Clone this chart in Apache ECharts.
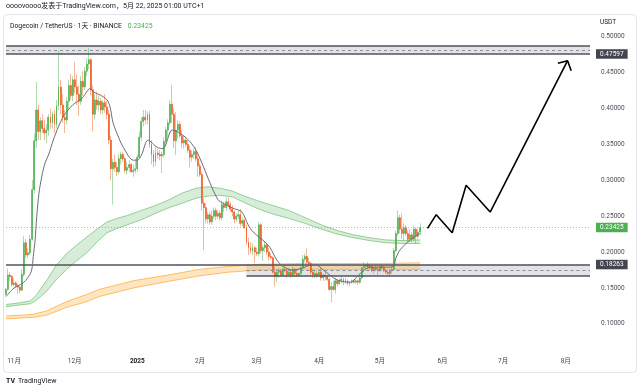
<!DOCTYPE html>
<html><head><meta charset="utf-8">
<script src="https://cdn.jsdelivr.net/npm/echarts@6/dist/echarts.min.js"></script>
<style>html,body{margin:0;padding:0;background:#fff}#c{width:640px;height:385px}</style>
</head><body><div id="c"></div>
<script>
// ---- data ----
const dayCount = 290; // day 0 = 2024-10-28
const monthTickDays = [4, 34, 65, 96, 124, 155, 185, 216, 246, 277];
const monthTickLabels = ['11月', '12月', '2025', '2月', '3月', '4月', '5月', '6月', '7月', '8月'];
const priceTicks = [0.10, 0.15, 0.20, 0.25, 0.30, 0.35, 0.40, 0.45, 0.50];

// daily candles [open, high, low, close] from 2024-10-28
const candles = [
[.141,.150,.139,.148],[.148,.177,.146,.168],[.168,.172,.160,.166],[.166,.168,.152,.155],[.155,.163,.152,.157],
[.157,.159,.150,.153],[.153,.156,.142,.151],[.151,.152,.143,.147],[.147,.176,.146,.169],[.169,.222,.166,.213],
[.213,.218,.192,.196],[.196,.206,.191,.199],[.199,.224,.196,.218],[.218,.300,.216,.287],[.287,.365,.282,.355],
[.355,.437,.345,.398],[.398,.405,.356,.368],[.368,.388,.356,.383],[.383,.392,.366,.372],[.372,.384,.356,.366],
[.366,.378,.352,.370],[.370,.392,.362,.388],[.388,.400,.372,.380],[.380,.396,.372,.392],[.392,.398,.366,.378],
[.378,.412,.372,.404],[.404,.481,.398,.430],[.430,.440,.392,.405],[.405,.420,.380,.388],[.388,.398,.366,.384],
[.384,.416,.378,.410],[.410,.440,.400,.432],[.432,.448,.412,.418],[.418,.445,.410,.440],[.440,.465,.422,.430],
[.430,.448,.405,.420],[.420,.432,.390,.410],[.410,.445,.405,.438],[.438,.452,.418,.430],[.430,.458,.425,.452],
[.452,.470,.445,.462],[.462,.484,.455,.468],[.468,.470,.418,.426],[.426,.432,.368,.392],[.392,.420,.385,.412],
[.412,.424,.398,.405],[.405,.418,.396,.410],[.410,.415,.392,.398],[.398,.412,.392,.408],[.408,.420,.394,.402],
[.402,.410,.385,.392],[.392,.398,.350,.356],[.356,.362,.300,.316],[.316,.330,.266,.325],[.325,.336,.312,.318],
[.318,.326,.306,.312],[.312,.336,.308,.330],[.330,.340,.322,.336],[.336,.340,.325,.330],[.330,.332,.310,.314],
[.314,.326,.308,.318],[.318,.328,.312,.322],[.322,.324,.310,.312],[.312,.322,.305,.314],[.314,.330,.310,.316],
[.316,.336,.312,.332],[.332,.368,.330,.360],[.360,.388,.355,.382],[.382,.398,.375,.388],[.388,.398,.378,.384],
[.384,.396,.378,.392],[.392,.396,.345,.350],[.350,.356,.322,.336],[.336,.342,.318,.326],[.326,.346,.320,.338],
[.338,.344,.330,.336],[.336,.342,.328,.334],[.334,.340,.310,.336],[.336,.360,.332,.354],[.354,.374,.348,.370],
[.370,.385,.360,.380],[.380,.412,.376,.406],[.406,.433,.380,.392],[.392,.400,.345,.355],[.355,.395,.335,.370],
[.370,.384,.358,.378],[.378,.382,.358,.362],[.362,.370,.345,.352],[.352,.362,.344,.356],[.356,.360,.346,.350],
[.350,.356,.338,.342],[.342,.348,.318,.332],[.332,.342,.326,.336],[.336,.344,.330,.340],[.340,.346,.326,.330],
[.330,.336,.305,.320],[.320,.324,.305,.308],[.308,.312,.258,.268],[.268,.275,.203,.262],[.262,.268,.240,.246],
[.246,.256,.240,.252],[.252,.256,.238,.242],[.242,.258,.238,.250],[.250,.262,.246,.258],[.258,.262,.244,.250],
[.250,.258,.246,.254],[.254,.258,.244,.248],[.248,.272,.244,.266],[.266,.270,.256,.262],[.262,.276,.258,.270],
[.270,.276,.262,.266],[.266,.270,.256,.260],[.260,.266,.250,.256],[.256,.258,.240,.246],[.246,.254,.242,.250],
[.250,.258,.246,.252],[.252,.260,.236,.240],[.240,.248,.236,.244],[.244,.246,.232,.234],[.234,.238,.210,.214],
[.214,.220,.196,.206],[.206,.214,.198,.202],[.202,.212,.196,.206],[.206,.208,.185,.200],[.200,.206,.195,.198],
[.198,.242,.194,.238],[.238,.240,.198,.202],[.202,.210,.188,.206],[.206,.214,.200,.210],[.210,.212,.196,.200],
[.200,.206,.188,.194],[.194,.198,.190,.192],[.192,.194,.170,.172],[.172,.180,.152,.166],[.166,.176,.158,.172],
[.172,.178,.164,.174],[.174,.176,.166,.168],[.168,.178,.166,.176],[.176,.180,.172,.174],[.174,.176,.164,.168],
[.168,.176,.166,.172],[.172,.174,.164,.168],[.168,.180,.166,.176],[.176,.178,.168,.170],[.170,.174,.166,.168],
[.168,.172,.165,.170],[.170,.180,.168,.178],[.178,.196,.176,.190],[.190,.198,.186,.194],[.194,.205,.184,.186],
[.186,.192,.180,.184],[.184,.186,.168,.172],[.172,.176,.164,.168],[.168,.174,.164,.170],[.170,.174,.164,.168],
[.168,.176,.166,.172],[.172,.178,.160,.164],[.164,.170,.160,.168],[.168,.174,.160,.166],[.166,.168,.160,.162],
[.162,.164,.146,.148],[.148,.158,.130,.152],[.152,.160,.146,.148],[.148,.164,.142,.160],[.160,.162,.152,.156],
[.156,.164,.154,.160],[.160,.166,.156,.162],[.162,.164,.154,.158],[.158,.164,.156,.160],[.160,.162,.154,.156],
[.156,.160,.152,.158],[.158,.162,.156,.160],[.160,.162,.156,.158],[.158,.162,.156,.160],[.160,.162,.154,.158],
[.158,.166,.156,.164],[.164,.180,.162,.178],[.178,.186,.172,.180],[.180,.184,.174,.182],[.182,.186,.176,.178],
[.178,.184,.176,.180],[.180,.182,.172,.174],[.174,.180,.170,.178],[.178,.182,.174,.176],[.176,.180,.168,.174],
[.174,.182,.172,.180],[.180,.182,.176,.178],[.178,.180,.172,.174],[.174,.176,.170,.172],[.172,.174,.168,.170],
[.170,.176,.166,.174],[.174,.180,.170,.176],[.176,.206,.174,.202],[.202,.230,.200,.226],[.226,.258,.222,.248],
[.248,.252,.226,.232],[.232,.254,.218,.226],[.226,.240,.216,.234],[.234,.238,.222,.226],[.226,.230,.214,.218],
[.218,.232,.214,.224],[.224,.228,.214,.218],[.218,.236,.216,.232],[.232,.234,.212,.222],[.222,.232,.218,.228],
[.228,.240,.224,.23425]
];

// fast moving average line [day, value]
const fastLine = [[0,.138],[4,.150],[8,.156],[11,.165],[12.7,.175],[13.5,.194],[14.4,.217],[15.2,.249],[16.3,.282],[17.7,.305],[19.3,.324],[21,.335],[23.4,.356],[26,.375],[28.4,.389],[33,.405],[37.5,.414],[40.7,.426],[41.6,.428],[43.2,.423],[46.5,.419],[50,.412],[51.5,.402],[53,.38],[56,.358],[58,.346],[63,.328],[65,.328],[67,.335],[70.3,.356],[74.8,.346],[77.7,.344],[82.2,.37],[86,.366],[91,.354],[94.4,.34],[97.7,.319],[101,.296],[104.9,.273],[107.4,.268],[112.4,.261],[116.7,.256],[119.8,.238],[122.3,.228],[128.2,.214],[130.7,.206],[134,.189],[137.1,.18],[142,.175],[147,.178],[150.5,.182],[153,.183],[157,.175],[164,.161],[170.3,.158],[175.2,.17],[180.2,.179],[188.6,.179],[191.6,.180],[193,.192],[195,.203],[200,.217],[205,.226]];

// green moving-average ribbon
const greenDays  = [0,6,12,15,20,25,30,35,40,45,50,55,60,67,74,80,87,94,100,106,112,118,125,132,140,148,156,164,172,180,188,196,205];
const greenUpper = [.127,.129,.132,.140,.160,.182,.198,.210,.221,.232,.242,.247,.251,.258,.265,.272,.282,.289,.291,.289,.285,.278,.271,.265,.258,.248,.238,.230,.224,.220,.217,.216,.217];
const greenLower = [.124,.126,.128,.133,.145,.162,.176,.188,.199,.214,.227,.233,.238,.245,.254,.261,.268,.275,.278,.279,.277,.269,.260,.253,.247,.240,.232,.225,.220,.216,.213,.212,.212];

// orange moving-average ribbon
const orangeDays  = [0,13,20,30,40,46,56,63,80,96,110,125,145,165,185,205];
const orangeUpper = [.111,.113,.118,.131,.141,.148,.155,.160,.168,.176,.180,.183,.184,.184,.184,.185];
const orangeLower = [.107,.109,.112,.123,.131,.138,.145,.150,.159,.167,.172,.175,.176,.176,.176,.176];

// hand-drawn projection path and arrow head [day, value]
const projection = [[208.6,.2331],[212.9,.2521],[220.8,.2270],[227.7,.2930],[239.6,.2558],[277.9,.4666]];
const arrowHead = [[273.1,.4630],[277.9,.4666],[279.7,.4527]];

const lastPrice = 0.23425;
const supportLevel = 0.18263;
const resistanceZone = [0.47597, 0.4871];
const supportZone = [0.1667, 0.18263];
const supportZoneStartDay = 119;

// ---- chart ----
const UP = '#4caf50', DN = '#f05a1e';
const UPp = 'rgba(76,175,80,0.45)', DNp = 'rgba(240,90,30,0.45)';
const FONT = 'Roboto, "Noto Sans CJK SC", sans-serif';
const LAST = dayCount - 1;

const dates = [];
for (let k = 0; k < dayCount; k++) {
  dates.push(new Date(Date.UTC(2024, 9, 28 + k)).toISOString().slice(0, 10));
}

function band(days, upper, lower, fill, stroke) {
  return {
    type: 'custom', xAxisIndex: 1, yAxisIndex: 0, data: [[0, 0]], silent: true, z: 1,
    renderItem(params, api) {
      const up = days.map((d, k) => api.coord([d, upper[k]]));
      const lo = days.map((d, k) => api.coord([d, lower[k]]));
      return { type: 'group', children: [
        { type: 'polygon', shape: { points: up.concat(lo.slice().reverse()) }, style: { fill } },
        { type: 'polyline', shape: { points: up }, style: { stroke, lineWidth: 1, fill: null } },
        { type: 'polyline', shape: { points: lo }, style: { stroke, lineWidth: 1, fill: null } }
      ]};
    }
  };
}

const zoneLine = (from, to, v, color, type, width) =>
  [{ coord: [from, v], lineStyle: { color, type, width } }, { coord: [to, v] }];

const chart = echarts.init(document.getElementById('c'), null, { renderer: 'canvas' });
chart.setOption({
  animation: false,
  backgroundColor: '#fff',
  grid: { left: 6, right: 50, top: 15.2, bottom: 39.6 },
  xAxis: [
    { type: 'category', data: dates, boundaryGap: false, show: false, position: 'bottom' },
    { type: 'value', min: 0, max: LAST, position: 'bottom', splitLine: { show: false }, axisLine: { show: false }, axisTick: { show: false },
      axisLabel: { customValues: monthTickDays, margin: 13, fontSize: 6.5, color: '#3b3e46', fontFamily: FONT,
        formatter: v => { const t = monthTickLabels[monthTickDays.indexOf(v)]; return /^\d{4}$/.test(t) ? '{b|' + t + '}' : t; },
        rich: { b: { fontWeight: 'bold', fontSize: 6.5, color: '#131722', fontFamily: FONT } } } }
  ],
  yAxis: {
    type: 'value', min: 0.07, max: 0.53, position: 'right',
    splitLine: { show: false }, axisLine: { show: false }, axisTick: { show: false },
    axisLabel: { customValues: priceTicks, formatter: v => v.toFixed(5), fontSize: 6.5, color: '#4b4f5a', margin: 11, fontFamily: FONT }
  },
  series: [
    band(orangeDays, orangeUpper, orangeLower, 'rgba(255,183,77,0.35)', 'rgba(255,170,60,0.75)'),
    band(greenDays, greenUpper, greenLower, 'rgba(76,175,80,0.22)', 'rgba(76,175,80,0.55)'),
    { type: 'line', xAxisIndex: 1, data: [], silent: true, z: 2,
      markArea: { silent: true, itemStyle: { color: 'rgba(170,174,184,0.35)' },
        data: [
          [{ coord: [0, resistanceZone[0]] }, { coord: [LAST, resistanceZone[1]] }],
          [{ coord: [supportZoneStartDay, supportZone[0]] }, { coord: [LAST, supportZone[1]] }]
        ] },
      markLine: { silent: true, symbol: ['none', 'none'], label: { show: false },
        data: [
          zoneLine(0, LAST, resistanceZone[1], '#50535e', 'solid', 1.5),
          zoneLine(0, LAST, (resistanceZone[0] + resistanceZone[1]) / 2, '#8a8d96', [3, 3], 1),
          zoneLine(supportZoneStartDay, LAST, (supportZone[0] + supportZone[1]) / 2, '#8a8d96', [3, 3], 1),
          zoneLine(supportZoneStartDay, LAST, supportZone[0], '#50535e', 'solid', 1.5)
        ] } },
    { type: 'candlestick', xAxisIndex: 0, z: 3, barWidth: 1,
      data: candles.map(c => [c[0], c[3], c[2], c[1]]),
      itemStyle: { color: UPp, color0: DNp, borderColor: UPp, borderColor0: DNp, borderWidth: 1 } },
    { type: 'candlestick', xAxisIndex: 0, z: 4, barWidth: 1.4,
      data: candles.map(c => [c[0], c[3], Math.min(c[0], c[3]), Math.max(c[0], c[3])]),
      itemStyle: { color: UP, color0: DN, borderColor: UP, borderColor0: DN, borderWidth: 0.6 } },
    { type: 'line', xAxisIndex: 1, data: fastLine, smooth: 0.3, showSymbol: false, silent: true, z: 5,
      lineStyle: { color: '#6b6e78', width: 1 } },
    { type: 'line', xAxisIndex: 1, data: projection, showSymbol: false, silent: true, z: 6,
      lineStyle: { color: '#000', width: 1.6 } },
    { type: 'line', xAxisIndex: 1, data: arrowHead, showSymbol: false, silent: true, z: 6,
      lineStyle: { color: '#000', width: 1.6 } },
    { type: 'line', xAxisIndex: 1, data: [], silent: true, z: 7,
      markLine: { silent: true, symbol: ['none', 'none'], precision: 5,
        label: { position: 'end', distance: 6, color: '#fff', fontSize: 6.5, fontFamily: FONT, padding: [2, 4, 1, 4],
          formatter: p => Number(p.value).toFixed(5) },
        data: [
          { yAxis: resistanceZone[0], lineStyle: { color: '#50535e', type: 'solid', width: 1.5 }, label: { backgroundColor: '#434651' } },
          { yAxis: supportLevel, lineStyle: { color: '#50535e', type: 'solid', width: 1.5 }, label: { backgroundColor: '#434651' } },
          { yAxis: lastPrice, lineStyle: { color: 'rgba(76,175,80,0.6)', type: [1, 2], width: 1 }, label: { backgroundColor: '#4caf50' } }
        ] } }
  ],
  graphic: [
    { type: 'rect', shape: { x: 3.5, y: 14.5, width: 633, height: 358, r: 4 }, style: { fill: null, stroke: '#e0e3eb', lineWidth: 1 }, silent: true, z: -1 },
    { type: 'text', left: 6, top: 3, style: { text: 'oooovoooo发表于TradingView.com，5月 22, 2025 01:00 UTC+1', fontSize: 7, fill: '#131722', fontFamily: FONT } },
    { type: 'text', left: 10, top: 20, style: { text: '{a|Dogecoin / TetherUS · 1天 · BINANCE}  {g|0.23425}', fontFamily: FONT,
        rich: { a: { fontSize: 6.8, fill: '#131722', fontFamily: FONT }, g: { fontSize: 6.8, fill: '#4caf50', fontFamily: FONT } } } },
    { type: 'text', left: 600, top: 19, style: { text: 'USDT', fontSize: 6.5, fill: '#131722', fontFamily: FONT } },
    { type: 'text', left: 6, top: 375, style: { text: '{l|TV} {t|TradingView}', fontFamily: FONT,
        rich: { l: { fontSize: 7, fontWeight: 'bold', fill: '#131722', fontFamily: FONT }, t: { fontSize: 7, fill: '#131722', fontFamily: FONT } } } }
  ]
});
</script></body></html>
